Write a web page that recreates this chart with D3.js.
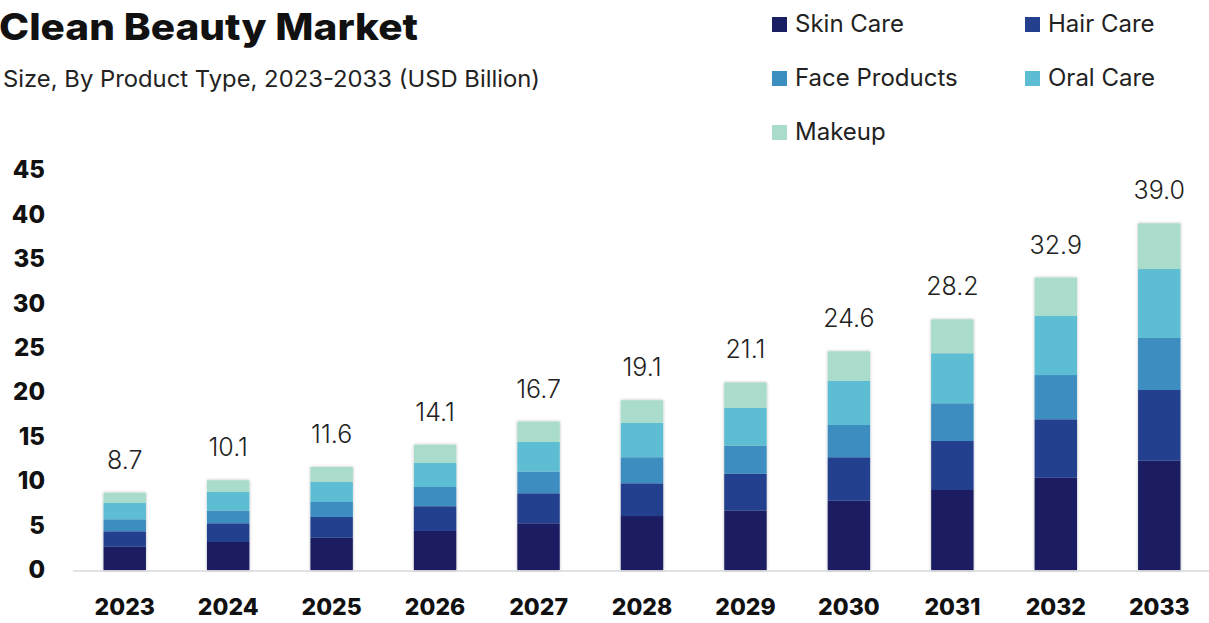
<!DOCTYPE html>
<html>
<head>
<meta charset="utf-8">
<script src="https://cdn.jsdelivr.net/npm/d3@7"></script>
<style>
  html, body { margin: 0; padding: 0; background: #ffffff; }
  svg { display: block; font-family: "Inter", "Lato", "DejaVu Sans", sans-serif; }
</style>
</head>
<body>
<svg id="chart" width="1209" height="623"></svg>
<script>
// Clean Beauty Market size by product type, USD billion
const years = ["2023","2024","2025","2026","2027","2028","2029","2030","2031","2032","2033"];
const seriesNames = ["Skin Care","Hair Care","Face Products","Oral Care","Makeup"];
const skinCare     = [2.62, 3.15, 3.63, 4.39, 5.25, 6.07, 6.67, 7.80, 9.00, 10.38, 12.30];
const hairCare     = [1.73, 2.10, 2.33, 2.78, 3.38, 3.68, 4.16, 4.88, 5.51, 6.57, 7.95];
const faceProducts = [1.35, 1.42, 1.69, 2.17, 2.43, 2.93, 3.15, 3.63, 4.24, 4.98, 5.85];
const oralCare     = [1.87, 2.14, 2.28, 2.73, 3.34, 3.89, 4.27, 4.98, 5.63, 6.64, 7.76];
const makeup       = [1.13, 1.29, 1.67, 2.03, 2.30, 2.53, 2.85, 3.31, 3.82, 4.33, 5.14];
const yTicks = [0, 5, 10, 15, 20, 25, 30, 35, 40, 45];
const colors = ["#1a1f64", "#243f8e", "#3c8dc0", "#5dbdd3", "#a9dccb"];

const seriesValues = [skinCare, hairCare, faceProducts, oralCare, makeup];
const rows = years.map((y, i) => {
  const r = { year: y };
  seriesNames.forEach((s, k) => { r[s] = seriesValues[k][i]; });
  return r;
});

const svg = d3.select("#chart");

// drop shadow for bars
const defs = svg.append("defs");
const f = defs.append("filter").attr("id", "barShadow")
  .attr("x", "-20%").attr("y", "-5%").attr("width", "140%").attr("height", "110%");
f.append("feDropShadow").attr("dx", 0).attr("dy", 0).attr("stdDeviation", 1.6)
  .attr("flood-color", "#000").attr("flood-opacity", 0.28);

const x = d3.scaleBand().domain(years).range([73, 1211]).paddingInner(0.59).paddingOuter(0.295);
const y = d3.scaleLinear().domain([0, 45]).range([570, 170]);

const stacked = d3.stack().keys(seriesNames)(rows);

// baseline
svg.append("line")
  .attr("x1", 73).attr("x2", 1209)
  .attr("y1", y(0) + 1).attr("y2", y(0) + 1)
  .attr("stroke", "#d6d8dc").attr("stroke-width", 1.5);

// bars
const barG = svg.append("g");
years.forEach((yr, i) => {
  const g = barG.append("g").attr("filter", "url(#barShadow)");
  stacked.forEach((layer, k) => {
    const d = layer[i];
    g.append("rect")
      .attr("x", x(yr))
      .attr("width", x.bandwidth())
      .attr("y", y(d[1]))
      .attr("height", y(d[0]) - y(d[1]))
      .attr("fill", colors[k]);
  });
});

// totals above bars
const totals = rows.map(r => d3.sum(seriesNames, s => r[s]));
svg.append("g").selectAll("text").data(years).join("text")
  .attr("x", d => x(d) + x.bandwidth() / 2)
  .attr("y", (d, i) => y(totals[i]) - 24)
  .attr("text-anchor", "middle")
  .attr("font-size", 25)
  .attr("font-weight", 300)
  .attr("fill", "#222")
  .text((d, i) => d3.format(".1f")(totals[i]));

// y axis
const yAxis = d3.axisLeft(y).tickValues(yTicks).tickSize(0).tickPadding(0);
const yg = svg.append("g").attr("transform", "translate(45,0)").call(yAxis);
yg.select(".domain").remove();
yg.selectAll("text")
  .attr("font-size", 24).attr("font-weight", 800).attr("fill", "#111")
  .attr("font-family", "Inter, Lato, sans-serif");

// x axis
const xAxis = d3.axisBottom(x).tickSize(0).tickPadding(0);
const xg = svg.append("g").attr("transform", "translate(0,599)").call(xAxis);
xg.select(".domain").remove();
xg.selectAll("text")
  .attr("font-size", 23).attr("font-weight", 800).attr("fill", "#111")
  .attr("font-family", "Inter, Lato, sans-serif");

// title and subtitle
svg.append("text").attr("x", -1).attr("y", 40)
  .attr("font-size", 37).attr("font-weight", 800).attr("fill", "#111")
  .attr("textLength", 419).attr("lengthAdjust", "spacingAndGlyphs")
  .text("Clean Beauty Market");
svg.append("text").attr("x", 3).attr("y", 87)
  .attr("font-size", 23).attr("font-weight", 400).attr("fill", "#222")
  .attr("textLength", 537).attr("lengthAdjust", "spacingAndGlyphs")
  .text("Size, By Product Type, 2023-2033 (USD Billion)");

// legend
const legendPos = [[772, 17], [1025, 17], [772, 71], [1025, 71], [772, 125]];
const lg = svg.append("g");
seriesNames.forEach((s, k) => {
  const [lx, ly] = legendPos[k];
  lg.append("rect").attr("x", lx).attr("y", ly).attr("width", 15).attr("height", 15).attr("fill", colors[k]);
  lg.append("text").attr("x", lx + 23).attr("y", ly + 15)
    .attr("font-size", 24).attr("fill", "#222").text(s);
});
</script>
</body>
</html>
